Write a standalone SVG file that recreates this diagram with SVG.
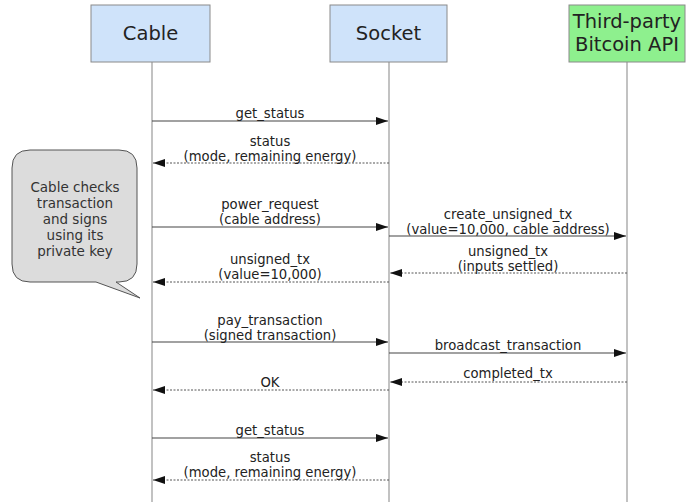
<svg xmlns="http://www.w3.org/2000/svg" width="695" height="502" viewBox="0 0 695 502">
<style>
.box{fill:#cfe3fa;stroke:#8a8a8a;stroke-width:1}
.api{fill:#8ef08e;stroke:#8a8a8a;stroke-width:1}
.life{stroke:#999;stroke-width:1.2;fill:none}
.h{font-family:"DejaVu Sans",sans-serif;font-size:19.5px;fill:#222;text-anchor:middle}
.t{font-family:"DejaVu Sans",sans-serif;font-size:13.2px;fill:#222;text-anchor:middle}
.call{font-family:"DejaVu Sans",sans-serif;font-size:13.5px;fill:#333;text-anchor:middle}
.req{stroke:#444;stroke-width:1.2;fill:none;marker-end:url(#ah)}
.res{stroke:#555;stroke-width:1;stroke-dasharray:2 1.5;fill:none;marker-end:url(#ah)}
</style>
<defs>
<marker id="ah" viewBox="0 0 12 8" refX="12" refY="4" markerWidth="12" markerHeight="8" markerUnits="userSpaceOnUse" orient="auto">
<path d="M0,0 L12,4 L0,8 Z" fill="#111"/>
</marker>
</defs>
<rect width="695" height="502" fill="#fff"/>
<g id="lifelines">
<line class="life" x1="152" y1="62" x2="152" y2="502"/>
<line class="life" x1="389" y1="62" x2="389" y2="502"/>
<line class="life" x1="627" y1="62" x2="627" y2="502"/>
</g>
<g id="cable">
<rect class="box" x="91" y="5" width="119" height="57"/>
<text class="h" x="150.5" y="40">Cable</text>
</g>
<g id="socket">
<rect class="box" x="330" y="5" width="117" height="57"/>
<text class="h" x="388.5" y="40">Socket</text>
</g>
<g id="api">
<rect class="api" x="569" y="5" width="116" height="57"/>
<text class="h" x="627" y="28">Third-party</text>
<text class="h" x="627" y="51">Bitcoin API</text>
</g>
<g id="note">
<path d="M30,150 H119 Q137,150 137,168 V264 Q137,282 119,282 H116 L140,298 L96,282 H30 Q12,282 12,264 V168 Q12,150 30,150 Z" fill="#dcdcdc" stroke="#555" stroke-width="1"/>
<text class="call" x="75" y="192">Cable checks</text>
<text class="call" x="75" y="208">transaction</text>
<text class="call" x="75" y="224">and signs</text>
<text class="call" x="75" y="240">using its</text>
<text class="call" x="75" y="256">private key</text>
</g>
<g id="connectors">
<line class="req" x1="152" y1="121" x2="388" y2="121"/>
<line class="res" x1="389" y1="163" x2="153" y2="163"/>
<line class="req" x1="152" y1="227" x2="388" y2="227"/>
<line class="req" x1="389" y1="236" x2="626" y2="236"/>
<line class="res" x1="627" y1="273" x2="390" y2="273"/>
<line class="res" x1="389" y1="282" x2="153" y2="282"/>
<line class="req" x1="152" y1="342" x2="388" y2="342"/>
<line class="req" x1="389" y1="353" x2="626" y2="353"/>
<line class="res" x1="627" y1="382" x2="390" y2="382"/>
<line class="res" x1="389" y1="390" x2="153" y2="390"/>
<line class="req" x1="152" y1="438" x2="388" y2="438"/>
<line class="res" x1="389" y1="480" x2="153" y2="480"/>
</g>
<g id="labels">
<text class="t" x="270" y="118">get_status</text>
<text class="t" x="270" y="145.5">status</text>
<text class="t" x="270" y="161">(mode, remaining energy)</text>
<text class="t" x="270" y="208.5">power_request</text>
<text class="t" x="270" y="224">(cable address)</text>
<text class="t" x="508" y="218.5">create_unsigned_tx</text>
<text class="t" x="508" y="234">(value=10,000, cable address)</text>
<text class="t" x="508" y="255.5">unsigned_tx</text>
<text class="t" x="508" y="271">(inputs settled)</text>
<text class="t" x="270" y="263.5">unsigned_tx</text>
<text class="t" x="270" y="279">(value=10,000)</text>
<text class="t" x="270" y="324.5">pay_transaction</text>
<text class="t" x="270" y="340">(signed transaction)</text>
<text class="t" x="508" y="350">broadcast_transaction</text>
<text class="t" x="508" y="378">completed_tx</text>
<text class="t" x="270" y="387">OK</text>
<text class="t" x="270" y="435">get_status</text>
<text class="t" x="270" y="461.5">status</text>
<text class="t" x="270" y="477">(mode, remaining energy)</text>
</g>
</svg>
